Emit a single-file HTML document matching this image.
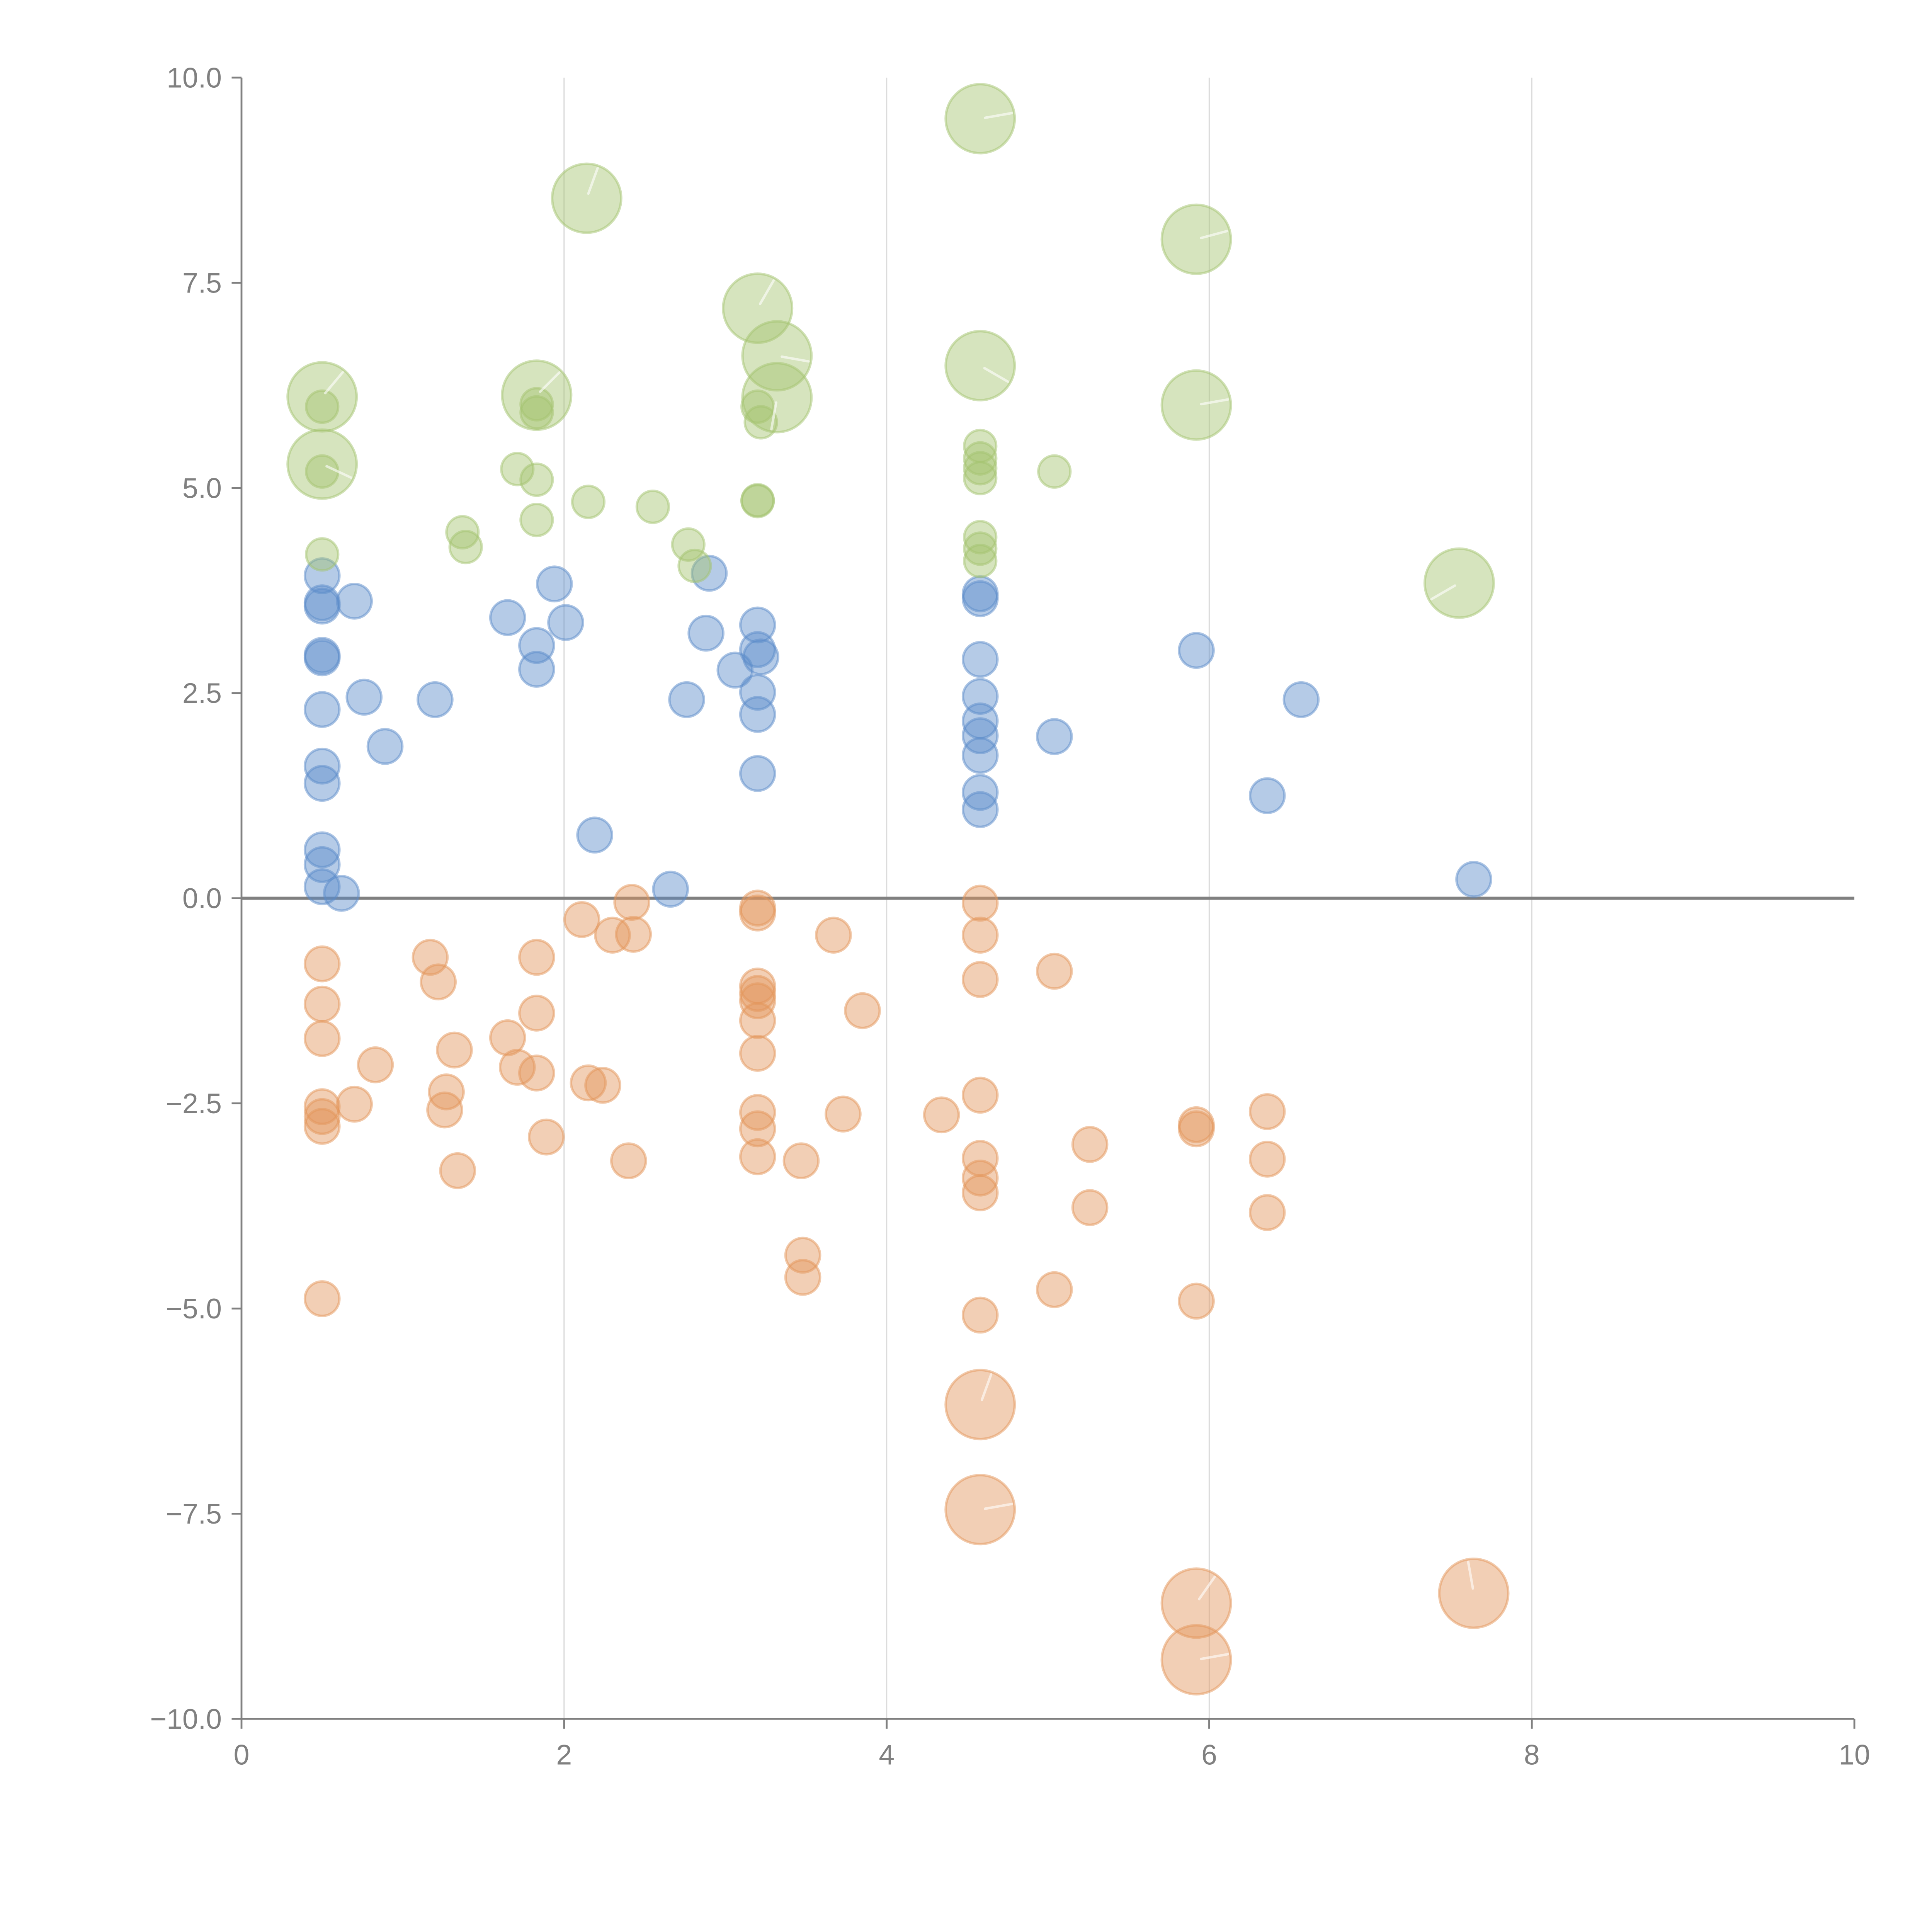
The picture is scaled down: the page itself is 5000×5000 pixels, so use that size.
<!DOCTYPE html>
<html><head><meta charset="utf-8">
<style>
html,body{margin:0;padding:0;background:#fff;}
svg{display:block;}
text{font-family:"Liberation Sans",Arial,sans-serif;fill:#808080;font-size:23px;}
</style></head>
<body>
<svg id="chart" width="5000" height="5000" viewBox="0 0 1568 1568" xmlns="http://www.w3.org/2000/svg">
<g id="grid"></g>
<g id="axes"></g>
<g id="marks"></g>
</svg>
<script>
const xTicks=[0,2,4,6,8,10];
const xTickLabels=["0","2","4","6","8","10"];
const yTicks=[10,7.5,5,2.5,0,-2.5,-5,-7.5,-10];
const yTickLabels=["10.0","7.5","5.0","2.5","0.0","\u22122.5","\u22125.0","\u22127.5","\u221210.0"];

const greenSmallX=[0.5,0.5,0.5,1.37,1.39,1.71,1.83,1.83,1.83,1.83,2.15,2.55,2.77,2.81,3.2,3.2,3.2,3.22,4.58,4.58,4.58,4.58,4.58,4.58,4.58,5.04];
const greenSmallY=[5.99,5.2,4.19,4.46,4.28,5.23,5.1,4.61,6.02,5.92,4.83,4.77,4.31,4.05,4.85,4.84,5.99,5.8,5.51,5.36,5.24,5.12,4.4,4.26,4.11,5.2];
const greenBigX=[0.5,0.5,2.14,1.83,3.2,3.32,3.32,4.58,4.58,5.92,5.92,7.55];
const greenBigY=[6.11,5.29,8.53,6.13,7.19,6.61,6.1,9.5,6.49,8.03,6.01,3.84];
const greenBigAngle=[50,-25,70,45,60,-10,-100,10,-30,15,10,210];

const blueX=[0.5,0.5,0.5,0.5,0.5,0.5,0.5,0.5,0.5,0.5,0.5,0.62,0.7,0.76,0.89,1.2,1.65,1.83,1.83,1.94,2.01,2.19,2.66,2.76,2.88,2.9,3.06,3.2,3.2,3.22,3.2,3.2,3.2,4.58,4.58,4.58,4.58,4.58,4.58,4.58,4.58,4.58,5.04,5.92,6.36,6.57,7.64];
const blueY=[3.93,3.6,3.56,2.96,2.93,2.3,1.61,1.4,0.59,0.41,0.14,0.06,3.62,2.45,1.85,2.42,3.42,3.08,2.79,3.83,3.36,0.77,0.11,2.42,3.23,3.96,2.78,3.33,3.03,2.94,2.51,2.24,1.52,3.71,3.65,2.91,2.46,2.16,1.98,1.74,1.29,1.08,1.97,3.02,1.25,2.42,0.23];

const orangeSmallX=[0.5,0.5,0.5,0.5,0.5,0.5,0.5,0.7,0.83,1.17,1.22,1.32,1.27,1.26,1.34,1.65,1.71,1.83,1.83,1.83,1.89,2.11,2.15,2.24,2.3,2.42,2.43,2.4,3.2,3.2,3.2,3.2,3.2,3.2,3.2,3.2,3.2,3.2,3.47,3.48,3.48,3.67,3.73,3.85,4.34,4.58,4.58,4.58,4.58,4.58,4.58,4.58,4.58,5.04,5.04,5.26,5.26,5.92,5.92,5.92,6.36,6.36,6.36];
const orangeSmallY=[-0.8,-1.29,-1.71,-2.54,-2.66,-2.78,-4.88,-2.51,-2.03,-0.72,-1.02,-1.85,-2.36,-2.58,-3.32,-1.7,-2.06,-0.72,-1.4,-2.13,-2.91,-0.26,-2.25,-2.28,-0.45,-0.05,-0.44,-3.2,-0.12,-0.18,-1.07,-1.16,-1.25,-1.49,-1.89,-2.61,-2.81,-3.15,-3.2,-4.35,-4.62,-0.45,-2.63,-1.37,-2.64,-0.06,-0.45,-0.99,-2.4,-3.17,-3.41,-3.59,-5.08,-0.89,-4.77,-3.0,-3.77,-2.76,-2.81,-4.91,-2.6,-3.18,-3.83];
const orangeBigX=[4.58,4.58,5.92,5.92,7.64];
const orangeBigY=[-6.17,-7.45,-8.59,-9.28,-8.47];
const orangeBigAngle=[70,10,55,10,100];

const L=196,R=1505,T=63,B=1395;
const sx=v=>L+(v-0)/(10-0)*(R-L);
const sy=v=>B-(v+10)/20*(B-T);
const NS="http://www.w3.org/2000/svg";
function mk(tag,attrs,parent){const e=document.createElementNS(NS,tag);for(const k in attrs)e.setAttribute(k,attrs[k]);parent.appendChild(e);return e;}

const grid=document.getElementById('grid'),axes=document.getElementById('axes'),marks=document.getElementById('marks');
xTicks.forEach((t,i)=>{
  if(t>0&&t<10){const g=mk('line',{x1:sx(t),x2:sx(t),y1:T,y2:B,stroke:'#dcdcdc','stroke-width':1},grid);
    
    }
  const tk=mk('line',{x1:sx(t),x2:sx(t),y1:B,y2:B+8,stroke:'#808080','stroke-width':1.5},axes);
  
  
  const tx=mk('text',{x:sx(t),y:B+37,'text-anchor':'middle'},axes);tx.textContent=xTickLabels[i];
  
  
});
yTicks.forEach((t,i)=>{
  const tk=mk('line',{x1:L-8,x2:L,y1:sy(t),y2:sy(t),stroke:'#808080','stroke-width':1.5},axes);
  
  
  const tx=mk('text',{x:L-16,y:sy(t)+8,'text-anchor':'end'},axes);tx.textContent=yTickLabels[i];
  
  
});
const ya=mk('line',{x1:L,x2:L,y1:T,y2:B,stroke:'#808080','stroke-width':1.5},axes);


const xa=mk('line',{x1:L,x2:R,y1:B,y2:B,stroke:'#808080','stroke-width':1.5},axes);



function dot(x,y,r,color,name){
  const c=mk('circle',{cx:sx(x),cy:sy(y),r:r,fill:color,'fill-opacity':0.45,stroke:color,'stroke-opacity':0.5,'stroke-width':2},marks);
  
  
}
function needle(x,y,r,ang){
  const a=ang*Math.PI/180,cx=sx(x)+4*Math.cos(a),cy=sy(y)-4*Math.sin(a);
  const l=mk('line',{x1:cx,y1:cy,x2:sx(x)+(r-2)*Math.cos(a),y2:sy(y)-(r-2)*Math.sin(a),stroke:'#fff','stroke-opacity':0.6,'stroke-width':2,'stroke-linecap':'round'},marks);
  
  
}
const BLUE='#5b8bc9',GREEN='#a3c46f',ORANGE='#e3955a';
blueX.forEach((x,i)=>dot(x,blueY[i],14,BLUE,'blue-point'));
orangeSmallX.forEach((x,i)=>dot(x,orangeSmallY[i],14,ORANGE,'orange-point'));
greenSmallX.forEach((x,i)=>dot(x,greenSmallY[i],13,GREEN,'green-point'));
greenBigX.forEach((x,i)=>{dot(x,greenBigY[i],28,GREEN,'green-large-point');needle(x,greenBigY[i],28,greenBigAngle[i]);});
orangeBigX.forEach((x,i)=>{dot(x,orangeBigY[i],28,ORANGE,'orange-large-point');needle(x,orangeBigY[i],28,orangeBigAngle[i]);});

const zl=mk('line',{x1:L,x2:R,y1:sy(0),y2:sy(0),stroke:'#808080','stroke-width':2.5},axes);


</script>
</body></html>
